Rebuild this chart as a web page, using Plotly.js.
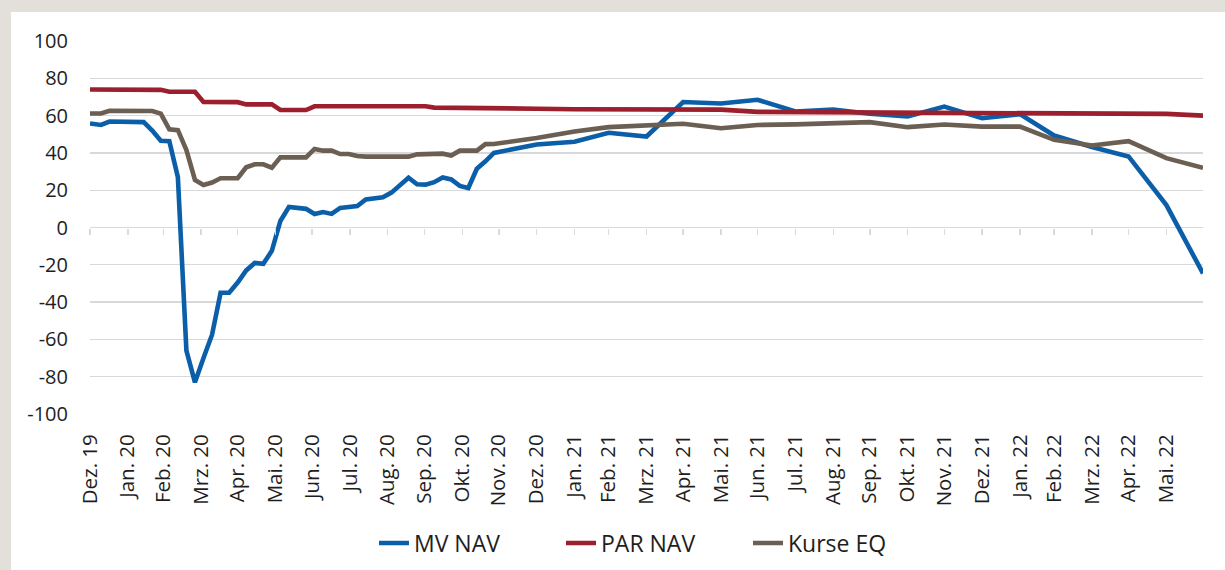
<!DOCTYPE html>
<html>
<head>
<meta charset="utf-8">
<script src="https://cdn.plot.ly/plotly-3.0.1.min.js"></script>
<style>
  html, body { margin: 0; padding: 0; background: #ffffff; overflow: hidden; }
  #chart { width: 1225px; height: 570px; }
</style>
</head>
<body>
<div id="chart"></div>
<script>
// ---- Data ----
const dates = [
  '2019-12-31',
  '2020-01-09','2020-01-16','2020-01-23','2020-01-30',
  '2020-02-06','2020-02-13','2020-02-20','2020-02-27',
  '2020-03-05','2020-03-12','2020-03-19','2020-03-26',
  '2020-04-02','2020-04-09','2020-04-16','2020-04-23','2020-04-30',
  '2020-05-07','2020-05-14','2020-05-21','2020-05-28',
  '2020-06-04','2020-06-11','2020-06-18','2020-06-25',
  '2020-07-02','2020-07-09','2020-07-16','2020-07-23','2020-07-30',
  '2020-08-06','2020-08-13','2020-08-20','2020-08-27',
  '2020-09-03','2020-09-10','2020-09-17','2020-09-24',
  '2020-10-01','2020-10-08','2020-10-15','2020-10-22','2020-10-29',
  '2020-11-05','2020-11-12','2020-11-19','2020-11-26',
  '2020-12-31','2021-01-31','2021-02-28','2021-03-31','2021-04-30','2021-05-31',
  '2021-06-30','2021-07-31','2021-08-31','2021-09-30','2021-10-31','2021-11-30',
  '2021-12-31','2022-01-31','2022-02-28','2022-03-31','2022-04-30','2022-05-31','2022-06-30'
];

const mvNav = [
  55.8,
  55, 56.8, 56.6, 56.5,
  56.6, 56.5, 52, 46.5,
  46.3, 27, -66, -83,
  -70, -57.5, -35, -35, -29.5,
  -23, -19, -19.5, -12.5,
  3.5, 11, 10.3, 10,
  7.2, 8.3, 7.3, 10.5, 11,
  11.5, 15, 15.6, 16.2,
  18.7, 23, 26.7, 23.2,
  23, 24.3, 26.8, 25.8, 22.3,
  21.2, 31.5, 35.5, 40,
  44.5, 46, 50.8, 48.8, 67.3, 66.5,
  68.5, 62.2, 63.2, 61, 59.6, 64.8,
  58.6, 60.8, 49.3, 43.2, 38.1, 12, -24.6
];

const parNav = [
  74,
  74, 74, 74, 74,
  74, 74, 74, 73.8,
  72.8, 72.8, 72.8, 72.8,
  67.3, 67.3, 67.3, 67.3, 67.2,
  66, 66, 66, 66,
  63, 63, 63, 63,
  65, 65, 65, 65, 65,
  65, 65, 65, 65,
  65, 65, 65, 65,
  65, 64.3, 64.3, 64.3, 64.3,
  64.3, 64.2, 64.2, 64.1,
  63.7, 63.4, 63.3, 63.3, 63.3, 63.2,
  62, 61.9, 61.8, 61.7, 61.6, 61.3,
  61.1, 61, 61, 61, 61, 60.9, 60
];

const kurseEq = [
  61.1,
  61.1, 62.6, 62.6, 62.6,
  62.6, 62.6, 62.5, 61.1,
  52.6, 52.2, 41.5, 25.5,
  22.8, 24.1, 26.4, 26.4, 26.4,
  32.3, 33.9, 33.9, 32.1,
  37.6, 37.6, 37.6, 37.6,
  42.1, 41.2, 41.2, 39.4, 39.4,
  38.3, 38, 38, 38,
  38, 38, 38, 39.2,
  39.5, 39.7, 39.6, 38.6, 41.2,
  41.2, 41.2, 44.7, 44.8,
  48, 51.5, 53.8, 54.8, 55.6, 53.2,
  55, 55.3, 55.6, 56.5, 53.8, 55.2,
  54.1, 54.1, 47, 44, 46.3, 37.2, 32
];

const tickDates = [
  '2019-12-31','2020-01-31','2020-02-29','2020-03-31','2020-04-30','2020-05-31',
  '2020-06-30','2020-07-31','2020-08-31','2020-09-30','2020-10-31','2020-11-30',
  '2020-12-31','2021-01-31','2021-02-28','2021-03-31','2021-04-30','2021-05-31',
  '2021-06-30','2021-07-31','2021-08-31','2021-09-30','2021-10-31','2021-11-30',
  '2021-12-31','2022-01-31','2022-02-28','2022-03-31','2022-04-30','2022-05-31'
];
const tickLabels = [
  'Dez. 19','Jan. 20','Feb. 20','Mrz. 20','Apr. 20','Mai. 20',
  'Jun. 20','Jul. 20','Aug. 20','Sep. 20','Okt. 20','Nov. 20',
  'Dez. 20','Jan. 21','Feb. 21','Mrz. 21','Apr. 21','Mai. 21',
  'Jun. 21','Jul. 21','Aug. 21','Sep. 21','Okt. 21','Nov. 21',
  'Dez. 21','Jan. 22','Feb. 22','Mrz. 22','Apr. 22','Mai. 22'
];
const yTickVals = [-100, -80, -60, -40, -20, 0, 20, 40, 60, 80, 100];
const yTickLabels = ['-100', '-80', '-60', '-40', '-20', '0', '20', '40', '60', '80', '100'];

const seriesNames = ['MV NAV', 'PAR NAV', 'Kurse EQ'];
const seriesColors = ['#0b5ea8', '#9c1f2e', '#6b5e52'];
const xRange = ['2019-12-31', '2022-06-30'];

// ---- Chart ----
const FONT = '"Open Sans", Lato, sans-serif';
const TEXT = '#1e1e1e';
const GRID = '#d9d9d9';
const FRAME = '#e3dfdb';

const values = [mvNav, parNav, kurseEq];
const traces = values.map((v, i) => ({
  type: 'scatter', mode: 'lines',
  name: seriesNames[i], x: dates, y: v,
  line: { color: seriesColors[i], width: 4.6, shape: 'linear' },
  hoverinfo: 'skip'
}));
// invisible helper trace so the tick-mark axis at y = 0 is drawn
traces.push({
  type: 'scatter', mode: 'lines', x: dates, y: mvNav, xaxis: 'x2',
  line: { width: 0, color: 'rgba(0,0,0,0)' }, opacity: 0,
  showlegend: false, hoverinfo: 'skip'
});

const L = 90, R = 1203, T = 41, B = 414, W = 1225, H = 570;
const pw = R - L, ph = B - T;
const px = v => (v - L) / pw;
const py = v => (B - v) / ph;

const layout = {
  width: W, height: H,
  margin: { l: L, r: W - R, t: T, b: H - B, pad: 0, autoexpand: false },
  paper_bgcolor: '#ffffff',
  plot_bgcolor: '#ffffff',
  font: { family: FONT, color: TEXT, size: 20 },
  showlegend: true,
  legend: {
    orientation: 'h', x: px(374), xanchor: 'left', y: py(543), yanchor: 'middle',
    font: { family: FONT, size: 23, color: TEXT },
    bgcolor: 'rgba(0,0,0,0)', traceorder: 'normal',
    entrywidth: 142, entrywidthmode: 'pixels'
  },
  xaxis: {
    type: 'date', range: xRange,
    tickmode: 'array', tickvals: tickDates, ticktext: tickLabels,
    tickangle: -90, ticks: 'outside', ticklen: 11, tickcolor: 'rgba(0,0,0,0)',
    showgrid: false, zeroline: false, showline: false, automargin: false,
    tickfont: { family: FONT, size: 20.5, color: TEXT },
    fixedrange: true
  },
  xaxis2: {
    type: 'date', range: xRange, overlaying: 'x', anchor: 'free', position: 0.5,
    side: 'bottom',
    tickmode: 'array', tickvals: tickDates, showticklabels: false,
    ticks: 'outside', ticklen: 6, tickwidth: 1.4, tickcolor: GRID,
    showgrid: false, zeroline: false, showline: false, fixedrange: true
  },
  yaxis: {
    range: [-100, 100], tickmode: 'array', tickvals: yTickVals, ticktext: yTickLabels,
    showgrid: true, gridcolor: GRID, gridwidth: 1.4,
    zeroline: true, zerolinecolor: GRID, zerolinewidth: 1.4,
    showline: false, ticks: 'outside', ticklen: 17, tickcolor: 'rgba(0,0,0,0)',
    automargin: false,
    tickfont: { family: FONT, size: 20, color: TEXT },
    fixedrange: true
  },
  shapes: [
    { type: 'rect', xref: 'paper', yref: 'paper', layer: 'below',
      x0: px(0), x1: px(W), y0: py(12), y1: py(0),
      fillcolor: FRAME, line: { width: 0 } },
    { type: 'rect', xref: 'paper', yref: 'paper', layer: 'below',
      x0: px(0), x1: px(11), y0: py(H), y1: py(0),
      fillcolor: FRAME, line: { width: 0 } }
  ]
};

Plotly.newPlot('chart', traces, layout, { staticPlot: true, displayModeBar: false });
</script>
</body>
</html>
